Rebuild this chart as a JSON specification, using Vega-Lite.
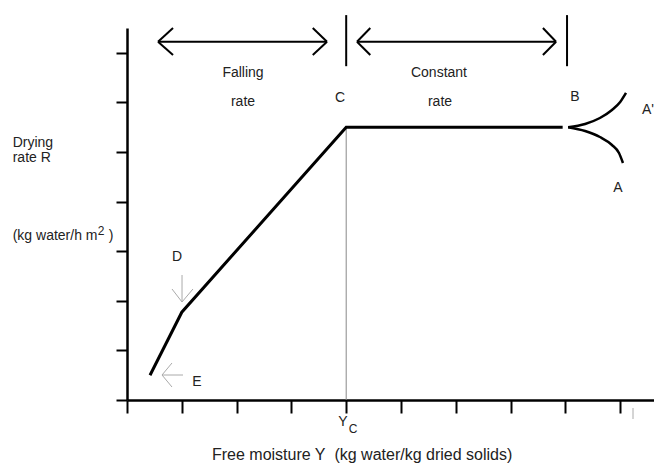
{
  "$schema": "https://vega.github.io/schema/vega-lite/v6.json",
  "width": 527,
  "height": 372,
  "autosize": {"type": "none"},
  "padding": {"left": 127, "top": 28, "right": 0, "bottom": 74},
  "background": "white",
  "config": {
    "view": {"stroke": null},
    "text": {"font": "Liberation Sans", "fontSize": 14, "color": "#222", "baseline": "middle"}
  },
  "datasets": {
    "curve": [
      {"i": 0, "x": 0.42, "y": 0.5},
      {"i": 1, "x": 1.0, "y": 1.77},
      {"i": 2, "x": 4.0, "y": 5.5},
      {"i": 3, "x": 7.95, "y": 5.5}
    ],
    "branches": [
      {"branch": "A'", "i": 0, "x": 8.05, "y": 5.5},
      {"branch": "A'", "i": 1, "x": 8.36, "y": 5.565},
      {"branch": "A'", "i": 2, "x": 8.63, "y": 5.685},
      {"branch": "A'", "i": 3, "x": 8.85, "y": 5.847},
      {"branch": "A'", "i": 4, "x": 9.0, "y": 6.008},
      {"branch": "A'", "i": 5, "x": 9.106, "y": 6.19},
      {"branch": "A", "i": 0, "x": 8.05, "y": 5.5},
      {"branch": "A", "i": 1, "x": 8.36, "y": 5.423},
      {"branch": "A", "i": 2, "x": 8.63, "y": 5.302},
      {"branch": "A", "i": 3, "x": 8.85, "y": 5.141},
      {"branch": "A", "i": 4, "x": 8.978, "y": 4.98},
      {"branch": "A", "i": 5, "x": 9.051, "y": 4.778}
    ],
    "strokes": [
      {"x": 4.0, "y": 6.73, "x2": 4.0, "y2": 7.76},
      {"x": 8.03, "y": 6.73, "x2": 8.03, "y2": 7.76},
      {"x": 0.566, "y": 7.224, "x2": 3.65, "y2": 7.224},
      {"x": 0.566, "y": 7.224, "x2": 0.84, "y2": 7.5},
      {"x": 0.566, "y": 7.224, "x2": 0.84, "y2": 6.956},
      {"x": 3.65, "y": 7.224, "x2": 3.39, "y2": 7.5},
      {"x": 3.65, "y": 7.224, "x2": 3.39, "y2": 6.956},
      {"x": 4.197, "y": 7.224, "x2": 7.83, "y2": 7.224},
      {"x": 4.197, "y": 7.224, "x2": 4.44, "y2": 7.5},
      {"x": 4.197, "y": 7.224, "x2": 4.44, "y2": 6.956},
      {"x": 7.83, "y": 7.224, "x2": 7.59, "y2": 7.5},
      {"x": 7.83, "y": 7.224, "x2": 7.59, "y2": 6.956}
    ],
    "pointers": [
      {"x": 1.004, "y": 2.52, "x2": 1.004, "y2": 1.976},
      {"x": 0.821, "y": 2.238, "x2": 1.004, "y2": 1.976},
      {"x": 1.204, "y": 2.238, "x2": 1.004, "y2": 1.976},
      {"x": 1.022, "y": 0.504, "x2": 0.639, "y2": 0.504},
      {"x": 0.821, "y": 0.746, "x2": 0.639, "y2": 0.504},
      {"x": 0.821, "y": 0.262, "x2": 0.639, "y2": 0.504},
      {"x": 9.234, "y": -0.161, "x2": 9.234, "y2": -0.383}
    ],
    "critical": [
      {"x": 4.0, "y": 0, "x2": 4.0, "y2": 5.5}
    ],
    "labels": [
      {"x": 2.117, "y": 6.593, "text": "Falling"},
      {"x": 2.117, "y": 6.008, "text": "rate"},
      {"x": 5.693, "y": 6.593, "text": "Constant"},
      {"x": 5.712, "y": 6.008, "text": "rate"},
      {"x": 3.887, "y": 6.089, "text": "C"},
      {"x": 8.175, "y": 6.109, "text": "B"},
      {"x": 9.507, "y": 5.847, "text": "A'"},
      {"x": 8.96, "y": 4.274, "text": "A"},
      {"x": 0.912, "y": 2.883, "text": "D"},
      {"x": 1.277, "y": 0.363, "text": "E"},
      {"x": 3.942, "y": -0.444, "text": "Y"},
      {"x": -0.292, "y": 3.306, "text": ")"}
    ],
    "scripts": [
      {"x": 4.124, "y": -0.585, "text": "C"},
      {"x": -0.474, "y": 3.407, "text": "2"}
    ],
    "titles": [
      {"x": -2.086, "y": 5.181, "text": "Drying"},
      {"x": -2.086, "y": 4.879, "text": "rate R"},
      {"x": -2.086, "y": 3.306, "text": "(kg water/h m"}
    ],
    "xTitle": [
      {"x": 1.551, "y": -1.109, "text": "Free moisture Y\u00a0 (kg water/kg dried solids)"}
    ]
  },
  "encoding": {
    "x": {
      "field": "x",
      "type": "quantitative",
      "scale": {"domain": [0, 9.617], "nice": false, "zero": false},
      "axis": {
        "values": [0, 1, 2, 3, 4, 5, 6, 7, 8, 9],
        "labels": false,
        "title": null,
        "grid": false,
        "tickSize": 13,
        "tickWidth": 2,
        "tickColor": "#000",
        "domainColor": "#000",
        "domainWidth": 2.5
      }
    },
    "y": {
      "field": "y",
      "type": "quantitative",
      "scale": {"domain": [0, 7.5], "nice": false, "zero": false},
      "axis": {
        "values": [0, 1, 2, 3, 4, 5, 6, 7],
        "labels": false,
        "title": null,
        "grid": false,
        "tickSize": 11,
        "tickWidth": 2,
        "tickColor": "#000",
        "domainColor": "#000",
        "domainWidth": 2.5
      }
    }
  },
  "layer": [
    {
      "data": {"name": "critical"},
      "mark": {"type": "rule", "color": "#888", "strokeWidth": 1},
      "encoding": {"x2": {"field": "x2"}, "y2": {"field": "y2"}}
    },
    {
      "data": {"name": "pointers"},
      "mark": {"type": "rule", "color": "#aaa", "strokeWidth": 1},
      "encoding": {"x2": {"field": "x2"}, "y2": {"field": "y2"}}
    },
    {
      "data": {"name": "strokes"},
      "mark": {"type": "rule", "color": "#000", "strokeWidth": 2},
      "encoding": {"x2": {"field": "x2"}, "y2": {"field": "y2"}}
    },
    {
      "data": {"name": "curve"},
      "mark": {"type": "line", "color": "#000", "strokeWidth": 3},
      "encoding": {"order": {"field": "i", "type": "quantitative"}}
    },
    {
      "data": {"name": "branches"},
      "mark": {"type": "line", "color": "#000", "strokeWidth": 2.5, "interpolate": "monotone"},
      "encoding": {
        "detail": {"field": "branch", "type": "nominal"},
        "order": {"field": "i", "type": "quantitative"}
      }
    },
    {
      "data": {"name": "labels"},
      "mark": {"type": "text", "align": "center"},
      "encoding": {"text": {"field": "text", "type": "nominal"}}
    },
    {
      "data": {"name": "scripts"},
      "mark": {"type": "text", "align": "center", "fontSize": 12},
      "encoding": {"text": {"field": "text", "type": "nominal"}}
    },
    {
      "data": {"name": "titles"},
      "mark": {"type": "text", "align": "left"},
      "encoding": {"text": {"field": "text", "type": "nominal"}}
    },
    {
      "data": {"name": "xTitle"},
      "mark": {"type": "text", "align": "left", "fontSize": 16},
      "encoding": {"text": {"field": "text", "type": "nominal"}}
    }
  ]
}
